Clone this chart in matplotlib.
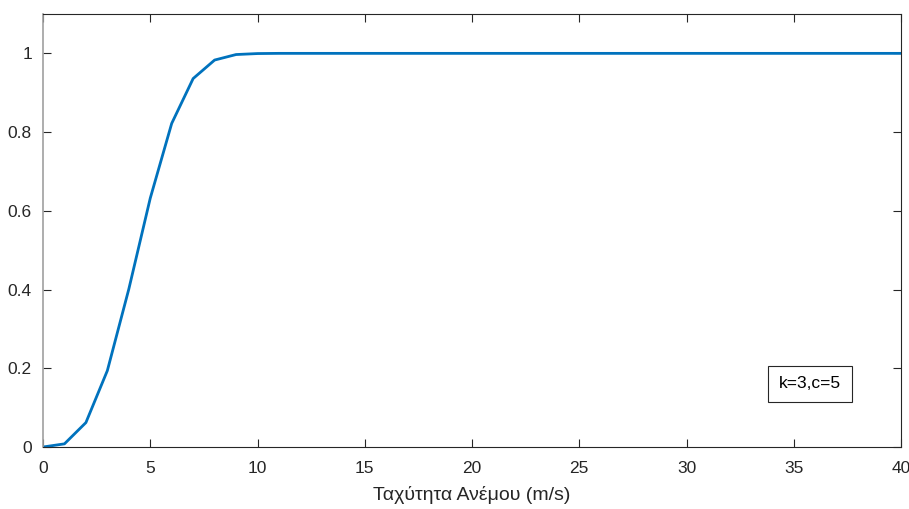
import matplotlib.pyplot as plt

plt.rcParams['font.family'] = ['Liberation Sans', 'DejaVu Sans']

# ταχύτητα ανέμου και αθροιστική πιθανότητα (k=3, c=5)
wind_speed = list(range(0, 41))
cdf_values = [0.0, 0.008, 0.062, 0.194, 0.401, 0.632, 0.822, 0.936, 0.983, 0.997,
              0.9995, 1.0, 1.0, 1.0, 1.0, 1.0, 1.0, 1.0, 1.0, 1.0,
              1.0, 1.0, 1.0, 1.0, 1.0, 1.0, 1.0, 1.0, 1.0, 1.0,
              1.0, 1.0, 1.0, 1.0, 1.0, 1.0, 1.0, 1.0, 1.0, 1.0, 1.0]
x_ticks = [0, 5, 10, 15, 20, 25, 30, 35, 40]
y_ticks = [0, 0.2, 0.4, 0.6, 0.8, 1]
y_labels = ['0', '0.2', '0.4', '0.6', '0.8', '1']

fig = plt.figure(figsize=(9.09, 5.09), dpi=100)
ax = fig.add_axes([43 / 909, 1 - 447 / 509, 858 / 909, 433 / 509])

ax.plot(wind_speed, cdf_values, color='#0072BD', linewidth=2)
ax.set_xlim(0, 40)
ax.set_ylim(0, 1.1)
ax.set_xticks(x_ticks)
ax.set_yticks(y_ticks)
ax.set_yticklabels(y_labels)
ax.tick_params(direction='in', top=True, right=True, length=6, width=0.8,
               labelsize=12.5, colors='#262626')
ax.tick_params(axis='x', pad=10)
ax.tick_params(axis='y', pad=8)
for side in ['top', 'right', 'bottom']:
    ax.spines[side].set_color('#262626')
    ax.spines[side].set_linewidth(0.8)
ax.spines['left'].set_color('#a0a0a0')
ax.spines['left'].set_linewidth(1.2)

ax.set_xlabel('Ταχύτητα Ανέμου (m/s)', fontsize=14, color='#262626', labelpad=7)

ax.text(0.894, 0.1455, 'k=3,c=5', transform=ax.transAxes, fontsize=12.5,
        ha='center', va='center',
        bbox=dict(boxstyle='square,pad=0.62', facecolor='white', edgecolor='#262626', linewidth=0.8))

fig.savefig('out.png', dpi=100)
